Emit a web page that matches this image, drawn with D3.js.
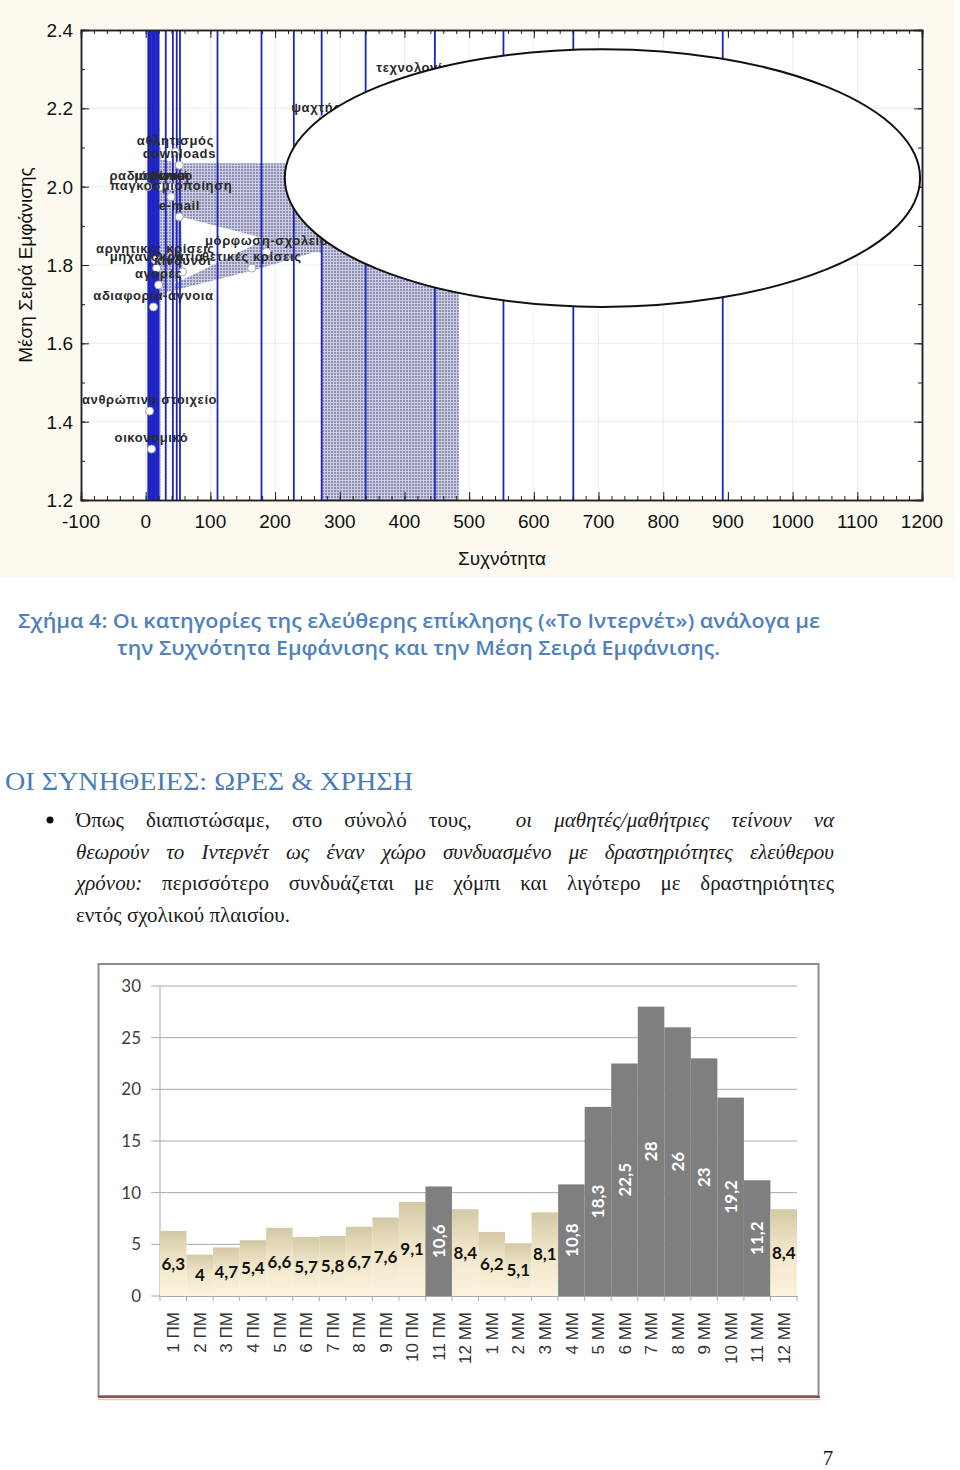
<!DOCTYPE html>
<html>
<head>
<meta charset="utf-8">
<script src="https://cdn.jsdelivr.net/npm/d3@7"></script>
<style>
  body { margin: 0; background: #fff; }
  svg { display: block; }
</style>
</head>
<body>
<svg id="page" width="960" height="1470"></svg>
<script>
// Σχήμα 4: κατηγορίες - συχνότητα / μέση σειρά εμφάνισης
const catNames = ['ανθρώπινο στοιχείο', 'οικονομικό', 'αδιαφορία-άγνοια', 'αγορές', 'αρνητικές κρίσεις',
  'μηχανοκρατία', 'κίνδυνοι', 'θετικές κρίσεις', 'μόρφωση-σχολείο', 'e-mail', 'παγκοσμιοποίηση',
  'ραδιόφωνο', 'μουσική', 'βίντεο', 'downloads', 'αθλητισμός', 'ψαχτήρια', 'τεχνολογία',
  'chat', 'παιχνίδια', 'επικοινωνία', 'πληροφορίες'];
const catFreq = [6, 9, 12, 20, 15, 17, 57, 164, 187, 52, 39, 3, 25, 40, 52, 46, 274, 414, 340, 553, 661, 892];
const catRank = [1.427, 1.33, 1.693, 1.749, 1.813, 1.792, 1.782, 1.792, 1.833, 1.923, 1.974,
  2.0, 2.0, 2.0, 2.055, 2.089, 2.172, 2.275, 2.05, 2.1, 1.95, 2.0];
// κάθετες γραμμές (συχνότητες)
const dropFreqs = [4, 6, 8, 10, 12, 14, 16, 18, 20, 31, 42, 48, 53, 111, 179, 229, 272, 340, 447, 553, 661, 892];
// γραμμοσκιασμένες περιοχές [συχνότητα, σειρά]
const hatchStrip = [[3, 2.1], [23, 2.1], [23, 1.2], [3, 1.2]];
const hatchA = [[52, 2.06], [484, 2.06], [52, 1.92]];
const hatchB = [[50, 1.925], [272, 1.99], [272, 1.83]];
const hatchC = [[18, 1.731], [272, 1.935], [272, 1.838], [168, 1.787], [22, 1.726]];
const hatchD = [[23, 2.07], [52, 2.06], [57, 1.782], [23, 1.71]];
const hatchR = [[272, 2.06], [484, 2.06], [484, 1.2], [272, 1.2]];
// έλλειψη που καλύπτει το δεξί μέρος
const coverCx = 706, coverCy = 2.022, coverRx = 491, coverRy = 0.329;
const freqTicks = d3.range(-100, 1201, 100);
const rankTicks = [1.2, 1.4, 1.6, 1.8, 2.0, 2.2, 2.4];

// ώρες χρήσης
const hourLabels = ['1 ΠΜ', '2 ΠΜ', '3 ΠΜ', '4 ΠΜ', '5 ΠΜ', '6 ΠΜ', '7 ΠΜ', '8 ΠΜ', '9 ΠΜ', '10 ΠΜ', '11 ΠΜ', '12 ΜΜ',
  '1 ΜΜ', '2 ΜΜ', '3 ΜΜ', '4 ΜΜ', '5 ΜΜ', '6 ΜΜ', '7 ΜΜ', '8 ΜΜ', '9 ΜΜ', '10 ΜΜ', '11 ΜΜ', '12 ΜΜ'];
const hourShare = [6.3, 4, 4.7, 5.4, 6.6, 5.7, 5.8, 6.7, 7.6, 9.1, 10.6, 8.4, 6.2, 5.1, 8.1, 10.8, 18.3, 22.5, 28, 26, 23, 19.2, 11.2, 8.4];
const shareTicks = [0, 5, 10, 15, 20, 25, 30];

const svg = d3.select('#page');
svg.append('rect').attr('width', 960).attr('height', 1470).attr('fill', '#fff');
const defs = svg.append('defs');

const pat = defs.append('pattern').attr('id', 'hatch')
  .attr('width', 3).attr('height', 3).attr('patternUnits', 'userSpaceOnUse');
pat.append('rect').attr('width', 3).attr('height', 3).attr('fill', '#8d8fb6');
pat.append('path').attr('d', 'M0,0.5H3M0.5,0V3').attr('stroke', '#cdcedf').attr('stroke-width', 1);

const sand = defs.append('linearGradient').attr('id', 'sand')
  .attr('x1', 0).attr('y1', 0).attr('x2', 0).attr('y2', 1);
sand.append('stop').attr('offset', 0).attr('stop-color', '#d4c9a5');
sand.append('stop').attr('offset', 0.45).attr('stop-color', '#efe5c8');
sand.append('stop').attr('offset', 1).attr('stop-color', '#fbf3de');

// ---------- πάνω γράφημα ----------
svg.append('rect').attr('x', 0).attr('y', 0).attr('width', 955).attr('height', 578).attr('fill', '#fcf9ee');

const x = d3.scaleLinear().domain([-100, 1200]).range([81, 922]);
const y = d3.scaleLinear().domain([1.2, 2.4]).range([500, 30]);

const plot = svg.append('g');
plot.append('rect').attr('x', 81).attr('y', 30).attr('width', 841).attr('height', 470).attr('fill', '#fff');

plot.append('g').selectAll('line').data(freqTicks.slice(1, -1)).join('line')
  .attr('x1', d => x(d)).attr('x2', d => x(d)).attr('y1', y(1.2)).attr('y2', y(2.4))
  .attr('stroke', '#ececec');
plot.append('g').selectAll('line').data(rankTicks.slice(1, -1)).join('line')
  .attr('y1', d => y(d)).attr('y2', d => y(d)).attr('x1', x(-100)).attr('x2', x(1200))
  .attr('stroke', '#ececec');

const area = d3.line().x(d => x(d[0])).y(d => y(d[1]));
plot.append('g').selectAll('path')
  .data([hatchStrip, hatchA, hatchB, hatchC, hatchD, hatchR]).join('path')
  .attr('d', d => area(d) + 'Z')
  .attr('fill', 'url(#hatch)');

plot.append('g').selectAll('line').data(dropFreqs).join('line')
  .attr('x1', d => x(d)).attr('x2', d => x(d)).attr('y1', y(1.2)).attr('y2', y(2.4))
  .attr('stroke', '#1c24c4').attr('stroke-width', 1.8);

// άξονες με εσωτερικές υποδιαιρέσεις
const minorF = d3.range(-100, 1201, 20), minorR = d3.range(1.2, 2.401, 0.1);
plot.append('g').attr('transform', 'translate(0,500)')
  .call(d3.axisBottom(x).tickValues(minorF).tickSize(-4).tickFormat(''));
plot.append('g').attr('transform', 'translate(0,500)')
  .call(d3.axisBottom(x).tickValues(freqTicks).tickSize(-8).tickFormat(''));
plot.append('g').attr('transform', 'translate(0,30)')
  .call(d3.axisTop(x).tickValues(minorF).tickSize(-4).tickFormat(''));
plot.append('g').attr('transform', 'translate(0,30)')
  .call(d3.axisTop(x).tickValues(freqTicks).tickSize(-8).tickFormat(''));
plot.append('g').attr('transform', 'translate(81,0)')
  .call(d3.axisLeft(y).tickValues(minorR).tickSize(-4).tickFormat(''));
plot.append('g').attr('transform', 'translate(81,0)')
  .call(d3.axisLeft(y).tickValues(rankTicks).tickSize(-8).tickFormat(''));
plot.append('g').attr('transform', 'translate(922,0)')
  .call(d3.axisRight(y).tickValues(minorR).tickSize(-4).tickFormat(''));
plot.append('g').attr('transform', 'translate(922,0)')
  .call(d3.axisRight(y).tickValues(rankTicks).tickSize(-8).tickFormat(''));
plot.selectAll('.domain').attr('stroke', '#222').attr('stroke-width', 1.5);
plot.selectAll('.tick line').attr('stroke', '#222');

const cats = catNames.map((n, i) => ({ name: n, f: catFreq[i], r: catRank[i] }));
plot.append('g').selectAll('circle').data(cats).join('circle')
  .attr('cx', d => x(d.f)).attr('cy', d => y(d.r)).attr('r', 4)
  .attr('fill', '#fff').attr('stroke', '#a8a8a8');
plot.append('g').selectAll('text').data(cats).join('text')
  .attr('x', d => x(d.f)).attr('y', d => y(d.r) - 7)
  .attr('text-anchor', 'middle')
  .attr('font-family', 'Liberation Sans, Arial, sans-serif').attr('font-size', 13)
  .attr('font-weight', 700).attr('letter-spacing', 0.6).attr('fill', '#2a2a2a')
  .text(d => d.name);

plot.append('ellipse')
  .attr('cx', x(coverCx)).attr('cy', y(coverCy))
  .attr('rx', x(coverCx + coverRx) - x(coverCx)).attr('ry', y(coverCy - coverRy) - y(coverCy))
  .attr('fill', '#fff').attr('stroke', '#111').attr('stroke-width', 2);

const tickFont = 'Liberation Sans, Arial, sans-serif';
plot.append('g').selectAll('text').data(freqTicks).join('text')
  .attr('x', d => x(d)).attr('y', 528).attr('text-anchor', 'middle')
  .attr('font-family', tickFont).attr('font-size', 19).attr('fill', '#111')
  .text(d => d);
plot.append('g').selectAll('text').data(rankTicks).join('text')
  .attr('x', 73).attr('y', d => y(d)).attr('dy', '0.36em').attr('text-anchor', 'end')
  .attr('font-family', tickFont).attr('font-size', 19).attr('fill', '#111')
  .text(d => d3.format('.1f')(d));
plot.append('text').attr('x', 502).attr('y', 565).attr('text-anchor', 'middle')
  .attr('font-family', tickFont).attr('font-size', 19).attr('fill', '#111').text('Συχνότητα');
plot.append('text').attr('transform', 'translate(32,265) rotate(-90)').attr('text-anchor', 'middle')
  .attr('font-family', tickFont).attr('font-size', 19).attr('fill', '#111').text('Μέση Σειρά Εμφάνισης');

// ---------- λεζάντα, επικεφαλίδα, κείμενο ----------
const capFont = 'Open Sans, Noto Sans, sans-serif';
svg.append('text').attr('x', 18).attr('y', 628).attr('textLength', 802).attr('lengthAdjust', 'spacingAndGlyphs')
  .attr('font-family', capFont).attr('font-weight', 600).attr('font-size', 20).attr('fill', '#4f81bd')
  .text('Σχήμα 4: Οι κατηγορίες της ελεύθερης επίκλησης («Το Ιντερνέτ») ανάλογα με');
svg.append('text').attr('x', 117).attr('y', 655).attr('textLength', 603).attr('lengthAdjust', 'spacingAndGlyphs')
  .attr('font-family', capFont).attr('font-weight', 600).attr('font-size', 20).attr('fill', '#4f81bd')
  .text('την Συχνότητα Εμφάνισης και την Μέση Σειρά Εμφάνισης.');

svg.append('text').attr('x', 5).attr('y', 790).attr('textLength', 408).attr('lengthAdjust', 'spacingAndGlyphs')
  .attr('font-family', 'Liberation Serif, Times New Roman, serif').attr('font-size', 26).attr('fill', '#4a7cb8')
  .text('ΟΙ ΣΥΝΗΘΕΙΕΣ: ΩΡΕΣ & ΧΡΗΣΗ');

const paraLines = [
  [['Όπως', 0], ['διαπιστώσαμε,', 0], ['στο', 0], ['σύνολό', 0], ['τους,', 0], ['οι', 1, 2], ['μαθητές/μαθήτριες', 1], ['τείνουν', 1], ['να', 1]],
  [['θεωρούν', 1], ['το', 1], ['Ιντερνέτ', 1], ['ως', 1], ['έναν', 1], ['χώρο', 1], ['συνδυασμένο', 1], ['με', 1], ['δραστηριότητες', 1], ['ελεύθερου', 1]],
  [['χρόνου:', 1], ['περισσότερο', 0], ['συνδυάζεται', 0], ['με', 0], ['χόμπι', 0], ['και', 0], ['λιγότερο', 0], ['με', 0], ['δραστηριότητες', 0]],
  [['εντός', 0], ['σχολικού', 0], ['πλαισίου.', 0]]
];
const para = svg.append('g').attr('font-family', 'Liberation Serif, Times New Roman, serif')
  .attr('font-size', 21).attr('fill', '#1a1a1a');
para.append('circle').attr('cx', 50).attr('cy', 820).attr('r', 3.5).attr('fill', '#111');
paraLines.forEach((words, li) => {
  const yb = 827 + li * 31.7;
  const nodes = words.map(w => para.append('text').attr('y', yb)
    .attr('font-style', w[1] ? 'italic' : 'normal').text(w[0]));
  const widths = nodes.map(n => n.node().getComputedTextLength());
  const gaps = words.slice(1).map(w => w[2] || 1);
  const unit = li < 3 ? (834 - 76 - d3.sum(widths)) / d3.sum(gaps) : 5.3;
  let cx = 76;
  nodes.forEach((n, i) => { n.attr('x', cx); cx += widths[i] + (i < gaps.length ? gaps[i] * unit : 0); });
});

// ---------- γράφημα ωρών ----------
svg.append('rect').attr('x', 98.5).attr('y', 964).attr('width', 720).attr('height', 432)
  .attr('fill', '#fff').attr('stroke', '#8c8c8c').attr('stroke-width', 2);
svg.append('line').attr('x1', 98).attr('x2', 820).attr('y1', 1397).attr('y2', 1397)
  .attr('stroke', '#9c4a4a').attr('stroke-width', 2);
svg.append('line').attr('x1', 98).attr('x2', 820).attr('y1', 1399.5).attr('y2', 1399.5)
  .attr('stroke', '#e6c2c2').attr('stroke-width', 1.5);

// ίδιες ετικέτες ('12 ΜΜ' δύο φορές), οπότε η ζώνη πάει με τη θέση
const bx = d3.scaleBand().domain(d3.range(hourLabels.length)).range([160, 797]).padding(0);
const by = d3.scaleLinear().domain([0, 30]).range([1296, 986]);
const barFont = 'Lato, Open Sans, sans-serif';
const hours = svg.append('g');

hours.append('g').selectAll('line').data(shareTicks).join('line')
  .attr('x1', 151).attr('x2', 797).attr('y1', d => by(d)).attr('y2', d => by(d))
  .attr('stroke', '#a9a9a9');
hours.append('line').attr('x1', 160).attr('x2', 160).attr('y1', by(30)).attr('y2', by(0)).attr('stroke', '#a9a9a9');
hours.append('g').selectAll('text').data(shareTicks).join('text')
  .attr('x', 141).attr('y', d => by(d)).attr('dy', '0.36em').attr('text-anchor', 'end')
  .attr('font-family', barFont).attr('font-size', 17).attr('fill', '#404040')
  .text(d => d);

const hrs = hourLabels.map((h, i) => ({ i, h, v: hourShare[i] }));
hours.append('g').selectAll('rect').data(hrs).join('rect')
  .attr('x', d => bx(d.i)).attr('y', d => by(d.v))
  .attr('width', bx.bandwidth()).attr('height', d => by(0) - by(d.v))
  .attr('fill', d => d.v > 10 ? '#7f7f7f' : 'url(#sand)');

hours.append('g').attr('transform', `translate(0,${by(0)})`)
  .call(d3.axisBottom(bx).tickSize(0).tickFormat(''))
  .call(g => g.select('.domain').attr('stroke', '#a9a9a9'));
hours.append('g').selectAll('line').data(d3.range(hourLabels.length + 1)).join('line')
  .attr('x1', i => 160 + i * bx.step()).attr('x2', i => 160 + i * bx.step())
  .attr('y1', by(0)).attr('y2', by(0) + 5).attr('stroke', '#a9a9a9');

const fmt = v => String(v).replace('.', ',');
hours.append('g').selectAll('text').data(hrs.filter(d => d.v <= 10)).join('text')
  .attr('x', d => bx(d.i) + bx.bandwidth() / 2).attr('y', d => by(d.v / 2)).attr('dy', '0.36em')
  .attr('text-anchor', 'middle').attr('font-family', barFont).attr('font-weight', 700)
  .attr('font-size', 17).attr('fill', '#111').text(d => fmt(d.v));
hours.append('g').selectAll('text').data(hrs.filter(d => d.v > 10)).join('text')
  .attr('transform', d => `translate(${bx(d.i) + bx.bandwidth() / 2},${by(d.v / 2)}) rotate(-90)`)
  .attr('dy', '0.36em').attr('text-anchor', 'middle').attr('font-family', barFont).attr('font-weight', 700)
  .attr('font-size', 17).attr('fill', '#fff').text(d => fmt(d.v));

hours.append('g').selectAll('text').data(hrs).join('text')
  .attr('transform', d => `translate(${bx(d.i) + bx.bandwidth() / 2},1312) rotate(-90)`)
  .attr('dy', '0.36em').attr('text-anchor', 'end')
  .attr('font-family', 'Liberation Sans, Arial, sans-serif').attr('font-size', 17).attr('fill', '#333')
  .text(d => d.h);

svg.append('text').attr('x', 828).attr('y', 1465).attr('text-anchor', 'middle')
  .attr('font-family', 'Liberation Serif, Times New Roman, serif').attr('font-size', 21).attr('fill', '#111')
  .text('7');
</script>
</body>
</html>
